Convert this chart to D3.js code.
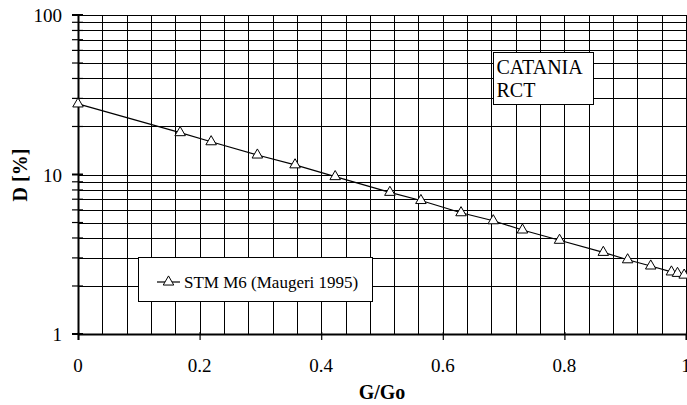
<!DOCTYPE html>
<html>
<head>
<meta charset="utf-8">
<script src="https://cdn.jsdelivr.net/npm/d3@7"></script>
<style>
  html, body { margin: 0; padding: 0; background: #fff; }
  svg { display: block; }
</style>
</head>
<body>
<svg id="chart" width="687" height="405" font-family="'Liberation Serif', 'Times New Roman', serif"></svg>
<script>
// ---- data ----
const gRatio  = [0, 0.168, 0.219, 0.295, 0.357, 0.423, 0.513, 0.564, 0.630, 0.683, 0.731, 0.792, 0.864, 0.904, 0.942, 0.976, 0.986, 0.997];
const damping = [27.7, 18.3, 16.05, 13.25, 11.5, 9.7, 7.73, 6.87, 5.76, 5.13, 4.49, 3.87, 3.25, 2.92, 2.67, 2.45, 2.40, 2.34];
const xTicks = [0, 0.2, 0.4, 0.6, 0.8, 1];
const yTicks = [1, 10, 100];
const seriesName = "STM M6 (Maugeri 1995)";
const noteLines = ["CATANIA", "RCT"];
const xTitle = "G/Go";
const yTitle = "D [%]";

const FONT = "'Liberation Serif', 'Times New Roman', serif";
const svg = d3.select("#chart");
const L = 78, R = 686, T = 15, B = 334;

const x = d3.scaleLinear().domain([0, 1]).range([L, R]);
const y = d3.scaleLog().domain([1, 100]).range([B, T]);

// grid
const vGrid = d3.range(0, 26).map(i => i * 0.04);
const hGrid = [];
for (const dec of [1, 10]) for (let k = 1; k <= 9; k++) hGrid.push(k * dec);
hGrid.push(100);

const grid = svg.append("g").attr("shape-rendering", "crispEdges");
grid.selectAll("line.v").data(vGrid).join("line")
  .attr("x1", d => Math.round(x(d)) + 0.5).attr("x2", d => Math.round(x(d)) + 0.5)
  .attr("y1", T).attr("y2", B)
  .attr("stroke", "#000").attr("stroke-width", 1);
grid.selectAll("line.h").data(hGrid).join("line")
  .attr("y1", d => Math.round(y(d)) + 0.5).attr("y2", d => Math.round(y(d)) + 0.5)
  .attr("x1", L).attr("x2", R)
  .attr("stroke", "#000").attr("stroke-width", 1);

// frame
svg.append("rect").attr("x", L + 0.5).attr("y", T + 0.5)
  .attr("width", R - L).attr("height", B - T)
  .attr("fill", "none").attr("stroke", "#000").attr("stroke-width", 1)
  .attr("shape-rendering", "crispEdges");

// axes
const yAxis = d3.axisLeft(y).tickValues(hGrid).tickSize(0).tickFormat("");
svg.append("g").attr("transform", `translate(${L},0)`).call(yAxis)
  .call(g => g.select(".domain").attr("stroke-width", 2));
svg.append("g").selectAll("line").data(hGrid).join("line")
  .attr("x1", L - 6).attr("x2", L + 5)
  .attr("y1", d => y(d)).attr("y2", d => y(d))
  .attr("stroke", "#000").attr("stroke-width", d => yTicks.includes(d) ? 2 : 1.2);
svg.append("g").selectAll("text").data(yTicks).join("text")
  .attr("x", L - 16).attr("y", d => y(d) + 7)
  .attr("font-family", FONT)
  .attr("text-anchor", "end").attr("font-size", 19).text(d => d);

const xAxis = d3.axisBottom(x).tickValues(xTicks).tickSize(6).tickFormat("");
svg.append("g").attr("transform", `translate(0,${B})`).call(xAxis)
  .call(g => g.select(".domain").attr("stroke-width", 2))
  .call(g => g.selectAll(".tick line").attr("y1", -2).attr("stroke-width", 1.2));
svg.append("g").selectAll("text").data(xTicks).join("text")
  .attr("x", d => x(d)).attr("y", 372)
  .attr("font-family", FONT)
  .attr("text-anchor", "middle").attr("font-size", 19).text(d => d);

// titles
svg.append("text").attr("x", (L + R) / 2).attr("y", 399)
  .attr("font-family", FONT)
  .attr("text-anchor", "middle").attr("font-size", 20).attr("font-weight", "bold").text(xTitle);
svg.append("text").attr("transform", "translate(27,175) rotate(-90)")
  .attr("font-family", FONT)
  .attr("text-anchor", "middle").attr("font-size", 20).attr("font-weight", "bold").text(yTitle);

// series
const pts = gRatio.map((g, i) => [g, damping[i]]);
svg.append("path").datum(pts)
  .attr("d", d3.line().x(d => x(d[0])).y(d => y(d[1])))
  .attr("fill", "none").attr("stroke", "#000").attr("stroke-width", 1.2);
const tri = d3.symbol().type(d3.symbolTriangle).size(48);
svg.append("g").selectAll("path").data(pts).join("path")
  .attr("transform", d => `translate(${x(d[0])},${y(d[1])})`)
  .attr("d", tri).attr("fill", "#fff").attr("stroke", "#000").attr("stroke-width", 1);

// legend
const lg = svg.append("g");
lg.append("rect").attr("x", 138.5).attr("y", 257.5).attr("width", 234).attr("height", 44)
  .attr("fill", "#fff").attr("stroke", "#000").attr("stroke-width", 1);
lg.append("line").attr("x1", 157).attr("x2", 180).attr("y1", 282).attr("y2", 282)
  .attr("stroke", "#000").attr("stroke-width", 1.2);
lg.append("path").attr("transform", "translate(168.5,282)").attr("d", tri)
  .attr("fill", "#fff").attr("stroke", "#000");
lg.append("text").attr("x", 184).attr("y", 287.5).attr("font-family", FONT)
  .attr("font-size", 17).text(seriesName);

// note box
const nb = svg.append("g");
nb.append("rect").attr("x", 493.5).attr("y", 52.5).attr("width", 100).attr("height", 52)
  .attr("fill", "#fff").attr("stroke", "#000").attr("stroke-width", 1);
nb.selectAll("text").data(noteLines).join("text")
  .attr("x", 496.5).attr("y", (d, i) => 74 + i * 23.3)
  .attr("font-family", FONT)
  .attr("font-size", 20).text(d => d);
</script>
</body>
</html>
